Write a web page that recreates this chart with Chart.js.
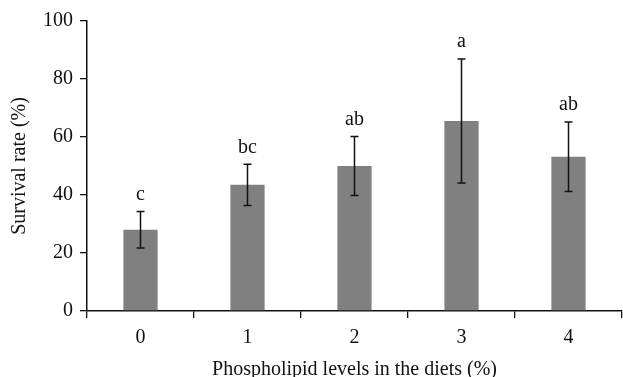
<!DOCTYPE html>
<html>
<head>
<meta charset="utf-8">
<script src="https://cdn.jsdelivr.net/npm/chart.js@4/dist/chart.umd.min.js"></script>
<style>
  html, body { margin: 0; padding: 0; background: #fff; }
  #wrap { width: 623px; height: 377px; }
</style>
</head>
<body>
<div id="wrap"><canvas id="survivalChart" width="623" height="377"></canvas></div>
<script>
const levels = ["0", "1", "2", "3", "4"];
const survival = [28, 43.5, 50, 65.5, 53.2];
const errors = [6.3, 7.1, 10.2, 21.4, 12];
const letters = ["c", "bc", "ab", "a", "ab"];
const yTicks = [0, 20, 40, 60, 80, 100];

const serif = "'Liberation Serif', 'DejaVu Serif', serif";

// error bars + significance letters drawn through the scales
const errorBars = {
  id: "errorBars",
  afterDatasetsDraw(chart) {
    const ctx = chart.ctx;
    const x = chart.scales.x;
    const y = chart.scales.y;
    ctx.save();
    ctx.strokeStyle = "#111";
    ctx.lineWidth = 1.5;
    ctx.fillStyle = "#111";
    ctx.font = "20px " + serif;
    ctx.textAlign = "center";
    ctx.textBaseline = "middle";
    survival.forEach((v, i) => {
      const px = x.getPixelForValue(i);
      const hi = y.getPixelForValue(v + errors[i]);
      const lo = y.getPixelForValue(v - errors[i]);
      ctx.beginPath();
      ctx.moveTo(px, hi);
      ctx.lineTo(px, lo);
      ctx.moveTo(px - 4, hi);
      ctx.lineTo(px + 4, hi);
      ctx.moveTo(px - 4, lo);
      ctx.lineTo(px + 4, lo);
      ctx.stroke();
      ctx.fillText(letters[i], px, hi - 17);
    });
    ctx.restore();
  }
};

new Chart(document.getElementById("survivalChart"), {
  type: "bar",
  data: {
    labels: levels,
    datasets: [{
      data: survival,
      backgroundColor: "#808080",
      barPercentage: 0.32,
      categoryPercentage: 1
    }]
  },
  options: {
    responsive: false,
    animation: false,
    layout: { padding: { top: 21, right: 1, left: 0, bottom: 0 } },
    plugins: {
      legend: { display: false },
      tooltip: { enabled: false }
    },
    scales: {
      x: {
        afterFit(scale) { scale.height = 66; },
        grid: { drawOnChartArea: false, tickLength: 7, color: "#111", lineWidth: 1.3 },
        border: { color: "#111", width: 1.5 },
        ticks: { color: "#111", padding: 8, font: { family: serif, size: 20 } },
        title: {
          display: true,
          text: "Phospholipid levels in the diets (%)",
          color: "#111",
          padding: { top: 0, bottom: -5 },
          font: { family: serif, size: 20 }
        }
      },
      y: {
        min: 0,
        max: 100,
        afterFit(scale) { scale.width = 87; },
        afterBuildTicks(scale) { scale.ticks = yTicks.map(v => ({ value: v })); },
        grid: { drawOnChartArea: false, tickLength: 7, color: "#111", lineWidth: 1.3 },
        border: { color: "#111", width: 1.5 },
        ticks: { color: "#111", padding: 7, font: { family: serif, size: 20 } },
        title: {
          display: true,
          text: "Survival rate (%)",
          color: "#111",
          padding: { top: 8, bottom: 0 },
          font: { family: serif, size: 20 }
        }
      }
    }
  },
  plugins: [errorBars]
});
</script>
</body>
</html>
